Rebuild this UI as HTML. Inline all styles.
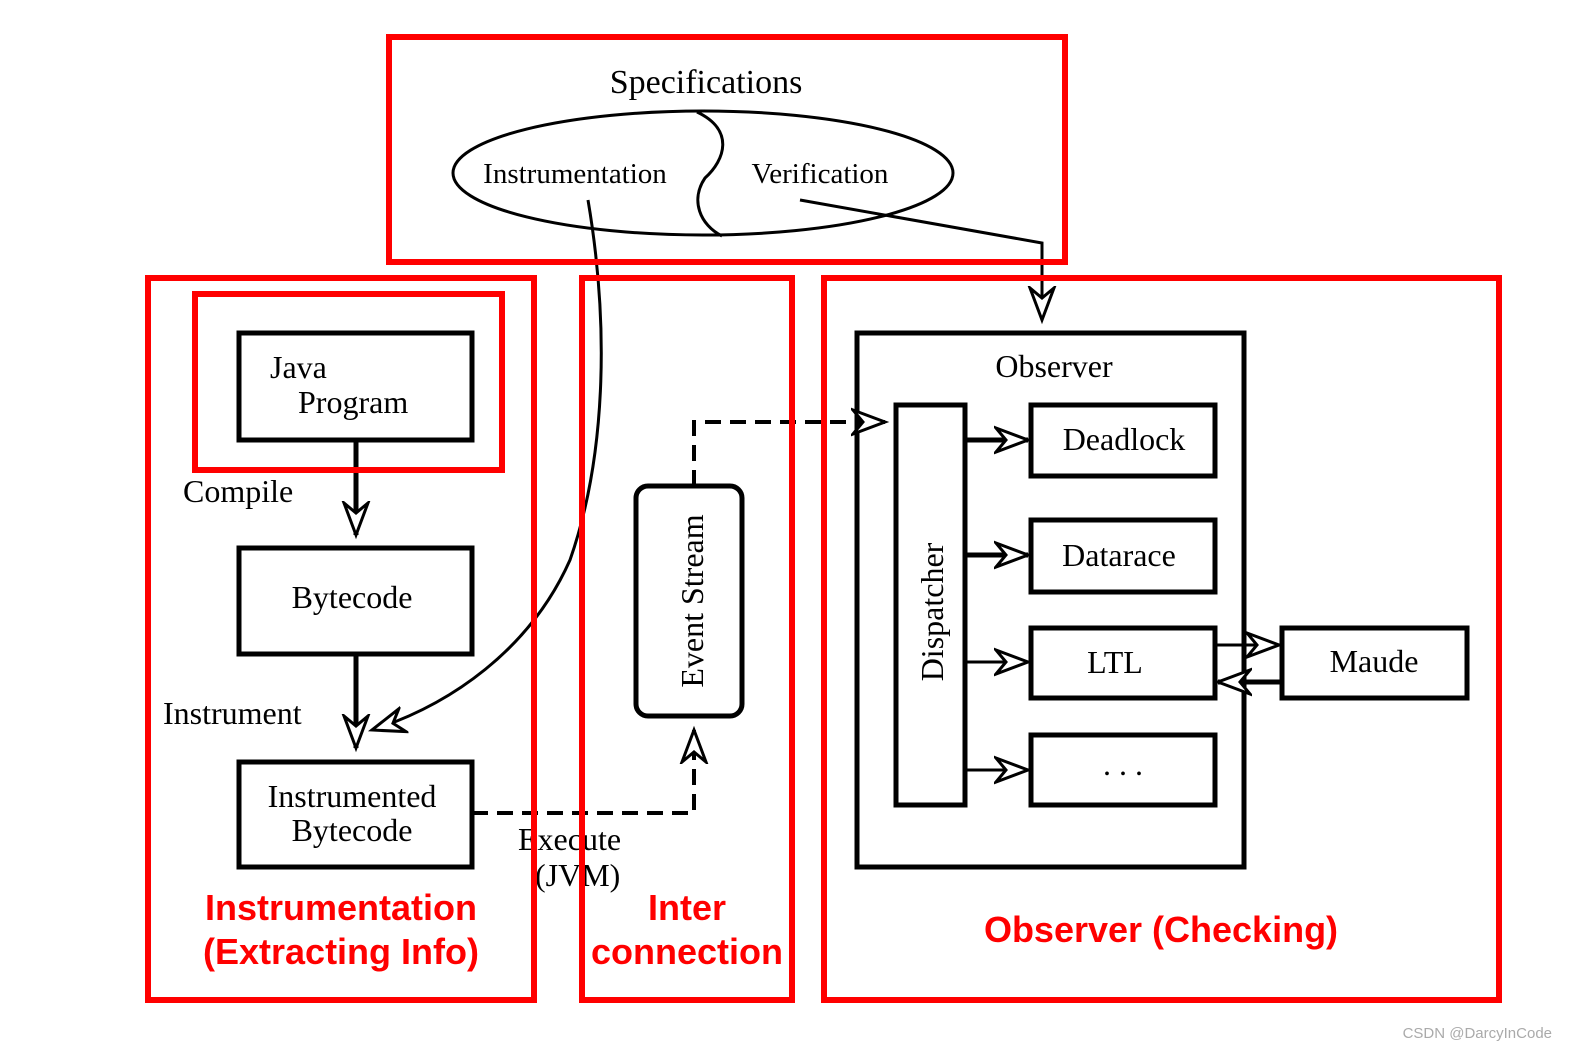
<!DOCTYPE html>
<html><head><style>
body{margin:0;background:#fff}
svg{display:block}
.s{font-family:"Liberation Serif",serif;fill:#000}
.r{font-family:"Liberation Sans",sans-serif;font-weight:bold;fill:#f00;font-size:36px}
</style></head><body>
<svg width="1578" height="1058" viewBox="0 0 1578 1058" xmlns="http://www.w3.org/2000/svg">
<defs>
<marker id="a" markerUnits="userSpaceOnUse" markerWidth="40" markerHeight="30" refX="34" refY="15" orient="auto" viewBox="0 0 40 30">
<path d="M2,3 L34,15 L2,27 L12,15 Z" fill="#fff" stroke="#000" stroke-width="3"/>
</marker>
</defs>
<!-- ellipse -->
<ellipse cx="703" cy="173" rx="250" ry="62" fill="none" stroke="#000" stroke-width="3"/>
<path d="M697,112 C735,130 725,160 705,178 C690,200 700,225 722,236" fill="none" stroke="#000" stroke-width="3"/>
<text class="s" x="706" y="93" font-size="34" text-anchor="middle">Specifications</text>
<text class="s" x="575" y="183" font-size="29" text-anchor="middle">Instrumentation</text>
<text class="s" x="820" y="183" font-size="29" text-anchor="middle">Verification</text>
<!-- curves -->
<path d="M588,200 C610,330 605,460 570,560 C530,650 450,705 372,730" fill="none" stroke="#000" stroke-width="3" marker-end="url(#a)"/>
<path d="M800,200 L1042,243 L1042,320" fill="none" stroke="#000" stroke-width="3" marker-end="url(#a)"/>
<!-- left boxes -->
<g fill="none" stroke="#000" stroke-width="5">
<rect x="239" y="333" width="233" height="107"/>
<rect x="239" y="548" width="233" height="106"/>
<rect x="239" y="762" width="233" height="105"/>
<rect x="636" y="486" width="106" height="230" rx="12"/>
<rect x="857" y="333" width="387" height="534"/>
<rect x="896" y="405" width="69" height="400"/>
<rect x="1031" y="405" width="184" height="71"/>
<rect x="1031" y="520" width="184" height="72"/>
<rect x="1031" y="628" width="184" height="70"/>
<rect x="1031" y="735" width="184" height="70"/>
<rect x="1282" y="628" width="185" height="70"/>
</g>
<text class="s" x="270" y="378" font-size="32">Java</text>
<text class="s" x="298" y="413" font-size="32">Program</text>
<text class="s" x="352" y="608" font-size="32" text-anchor="middle">Bytecode</text>
<text class="s" x="352" y="807" font-size="32" text-anchor="middle">Instrumented</text>
<text class="s" x="352" y="841" font-size="32" text-anchor="middle">Bytecode</text>
<text class="s" x="183" y="502" font-size="32">Compile</text>
<text class="s" x="163" y="724" font-size="32">Instrument</text>
<text class="s" x="518" y="850" font-size="32">Execute</text>
<text class="s" x="535" y="886" font-size="32">(JVM)</text>
<text class="s" font-size="32" transform="translate(703,601) rotate(-90)" text-anchor="middle">Event Stream</text>
<text class="s" font-size="32" transform="translate(943,612) rotate(-90)" text-anchor="middle">Dispatcher</text>
<text class="s" x="1054" y="377" font-size="32" text-anchor="middle">Observer</text>
<text class="s" x="1124" y="450" font-size="32" text-anchor="middle">Deadlock</text>
<text class="s" x="1119" y="566" font-size="32" text-anchor="middle">Datarace</text>
<text class="s" x="1115" y="673" font-size="32" text-anchor="middle">LTL</text>
<text class="s" x="1123" y="775" font-size="32" text-anchor="middle">. . .</text>
<text class="s" x="1374" y="672" font-size="32" text-anchor="middle">Maude</text>
<!-- arrows -->
<g stroke="#000" fill="none">
<path d="M356,440 L356,535" stroke-width="5" marker-end="url(#a)"/>
<path d="M356,654 L356,748" stroke-width="5" marker-end="url(#a)"/>
<path d="M965,440 L1028,440" stroke-width="5" marker-end="url(#a)"/>
<path d="M965,555 L1028,555" stroke-width="5" marker-end="url(#a)"/>
<path d="M965,662 L1028,662" stroke-width="3" marker-end="url(#a)"/>
<path d="M965,770 L1028,770" stroke-width="3" marker-end="url(#a)"/>
<path d="M1215,645 L1279,645" stroke-width="3" marker-end="url(#a)"/>
<path d="M1282,682 L1218,682" stroke-width="5" marker-end="url(#a)"/>
<path d="M472,813 L694,813 L694,730" stroke-width="4" stroke-dasharray="16,9" marker-end="url(#a)"/>
<path d="M694,486 L694,422 L885,422" stroke-width="4" stroke-dasharray="16,9" marker-end="url(#a)"/>
</g>
<!-- red boxes -->
<g fill="none" stroke="#f00" stroke-width="6">
<rect x="389" y="37" width="676" height="225"/>
<rect x="148" y="278" width="386" height="722"/>
<rect x="582" y="278" width="210" height="722"/>
<rect x="824" y="278" width="675" height="722"/>
<rect x="195" y="294" width="307" height="176"/>
</g>
<text class="r" x="341" y="920" text-anchor="middle">Instrumentation</text>
<text class="r" x="341" y="964" text-anchor="middle">(Extracting Info)</text>
<text class="r" x="687" y="920" text-anchor="middle">Inter</text>
<text class="r" x="687" y="964" text-anchor="middle">connection</text>
<text class="r" x="1161" y="942" text-anchor="middle">Observer (Checking)</text>
<text x="1552" y="1038" font-family="Liberation Sans,sans-serif" font-size="15" fill="#aaa" text-anchor="end">CSDN @DarcyInCode</text>
</svg>
</body></html>
